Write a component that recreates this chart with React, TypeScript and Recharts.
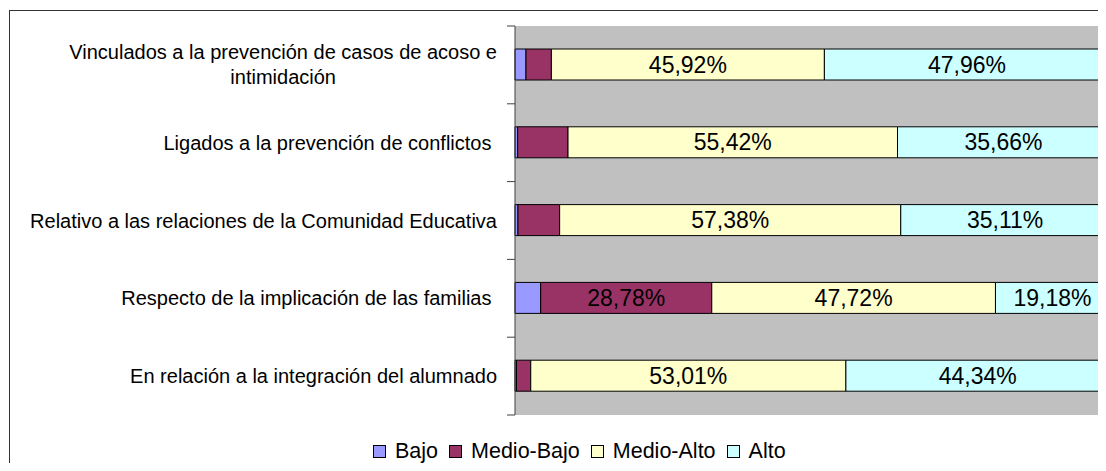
import React, { useLayoutEffect, useRef, useState } from 'react';
import { BarChart, Bar, XAxis, YAxis, CartesianGrid, Legend, LabelList } from 'recharts';

const categories = [
  'Vinculados a la prevención de casos de acoso e\nintimidación',
  'Ligados a la prevención de conflictos ',
  'Relativo a las relaciones de la Comunidad Educativa',
  'Respecto de la implicación de las familias ',
  'En relación a la integración del alumnado',
];
const bajo = [1.85, 0.45, 0.5, 4.32, 0.25];
const medioBajo = [4.27, 8.47, 7.01, 28.78, 2.4];
const medioAlto = [45.92, 55.42, 57.38, 47.72, 53.01];
const alto = [47.96, 35.66, 35.11, 19.18, 44.34];
const seriesKeys = ['bajo', 'medioBajo', 'medioAlto', 'alto'];
const seriesNames = ['Bajo', 'Medio-Bajo', 'Medio-Alto', 'Alto'];
const seriesColors = ['#9999FF', '#993366', '#FFFFCC', '#CCFFFF'];

const data = categories.map((name, i) => ({
  name,
  bajo: bajo[i],
  medioBajo: medioBajo[i],
  medioAlto: medioAlto[i],
  alto: alto[i],
}));

const FONT = '"Liberation Sans", Arial, sans-serif';
const CHART_W = 1120;
const CHART_H = 463;
const MARGIN = { top: 18, right: 18.5, bottom: 32, left: 0 };
const LEGEND_H = 24;
const Y_AXIS_W = 507;
const TICK_SIZE = 8;
const TICK_MARGIN = 10;
const PLOT_H = CHART_H - MARGIN.top - MARGIN.bottom - LEGEND_H;
const LINE_H = 25;

const CategoryTick = (props: any) => {
  const { x, y, payload, index, visibleTicksCount } = props;
  const lines = String(payload.value).split('\n');
  const ref = useRef<SVGTextElement>(null);
  const [w, setW] = useState(0);
  useLayoutEffect(() => {
    if (ref.current && lines.length > 1) setW(ref.current.getBBox().width);
  }, [payload.value]);
  const axisX = x + TICK_SIZE + TICK_MARGIN;
  const band = PLOT_H / (visibleTicksCount || categories.length);
  const multi = lines.length > 1;
  return (
    <g>
      <line x1={axisX - TICK_SIZE} x2={axisX} y1={y - band / 2} y2={y - band / 2} stroke="#404040" strokeWidth={1} />
      {index === (visibleTicksCount || categories.length) - 1 && (
        <line x1={axisX - TICK_SIZE} x2={axisX} y1={y + band / 2} y2={y + band / 2} stroke="#404040" strokeWidth={1} />
      )}
      <text
        ref={ref}
        x={multi ? x - w / 2 : x}
        y={y}
        textAnchor={multi ? 'middle' : 'end'}
        fontSize={20}
        fontFamily={FONT}
        fill="#000"
        style={{ whiteSpace: 'pre' }}
      >
        {lines.map((ln, i) => (
          <tspan key={i} x={multi ? x - w / 2 : x} dy={i === 0 ? -((lines.length - 1) / 2) * LINE_H + 7 : LINE_H}>
            {ln}
          </tspan>
        ))}
      </text>
    </g>
  );
};

const fmt = (v: any) => (Number(v) >= 10 ? Number(v).toFixed(2).replace('.', ',') + '%' : '');

const LegendContent = () => (
  <div style={{ display: 'flex', alignItems: 'center', height: LEGEND_H, fontFamily: FONT, fontSize: 21.5, color: '#000', whiteSpace: 'nowrap' }}>
    {seriesNames.map((n, i) => (
      <div key={n} style={{ display: 'flex', alignItems: 'center', marginRight: 11 }}>
        <span style={{ display: 'inline-block', width: 11, height: 11, border: '1px solid #000', background: seriesColors[i], marginRight: 9 }} />
        <span>{n}</span>
      </div>
    ))}
  </div>
);

export default function App() {
  return (
    <div style={{ position: 'relative', width: 1098, height: CHART_H, overflow: 'hidden', marginBottom: -8, background: '#fff' }}>
      <div style={{ position: 'absolute', left: 1, top: 2, width: 1300, height: 700, border: '1px solid #333', boxSizing: 'border-box' }} />
      <div style={{ position: 'absolute', left: 0, top: 0 }}>
        <BarChart
          width={CHART_W}
          height={CHART_H}
          data={data}
          layout="vertical"
          margin={MARGIN}
          barSize={31}
          style={{ fontFamily: FONT }}
        >
          <CartesianGrid fill="#C0C0C0" stroke="none" horizontal={false} vertical={false} />
          <XAxis type="number" domain={[0, 100]} height={0} tick={false} tickLine={false} axisLine={{ stroke: '#808080', strokeWidth: 2 }} />
          <YAxis
            type="category"
            dataKey="name"
            width={Y_AXIS_W}
            tickSize={TICK_SIZE}
            tickMargin={TICK_MARGIN}
            tickLine={false}
            axisLine={{ stroke: '#404040', strokeWidth: 1 }}
            interval={0}
            tick={(p: any) => <CategoryTick {...p} />}
          />
          {seriesKeys.map((k, i) => (
            <Bar key={k} dataKey={k} name={seriesNames[i]} stackId="a" fill={seriesColors[i]} stroke="#000" strokeWidth={1} isAnimationActive={false}>
              <LabelList dataKey={k} position="center" formatter={fmt} fill="#000" fontSize={23} fontFamily={FONT} />
            </Bar>
          ))}
          <Legend
            verticalAlign="bottom"
            content={<LegendContent />}
            wrapperStyle={{ left: 365, bottom: 8, width: 'auto', height: LEGEND_H }}
          />
        </BarChart>
      </div>
    </div>
  );
}
